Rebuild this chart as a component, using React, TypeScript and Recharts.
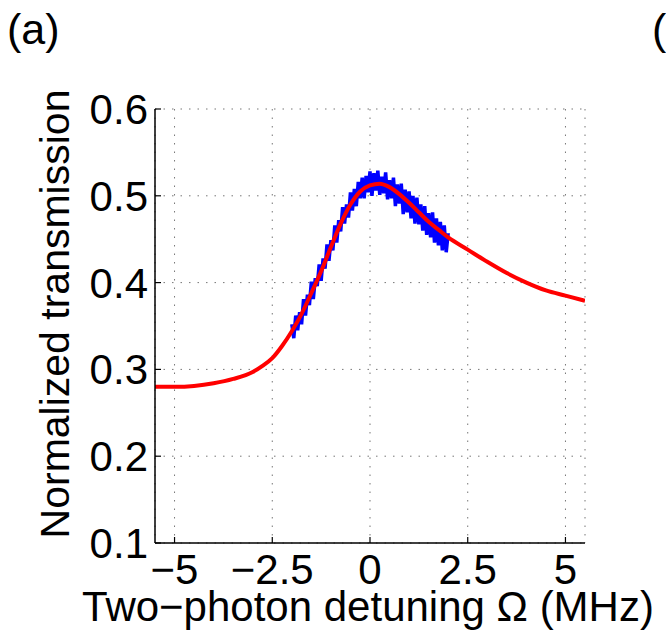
import { ComposedChart, Line, XAxis, YAxis, CartesianGrid } from 'recharts';

const xTicks = [-5, -2.5, 0, 2.5, 5];
const yTicks = [0.1, 0.2, 0.3, 0.4, 0.5, 0.6];

// fitted curve (red)
const fitX = [-5.5, -5, -4.5, -4, -3.5, -3, -2.75, -2.5, -2.25, -2, -1.75, -1.5, -1.25, -1, -0.75, -0.5, -0.25, 0, 0.25, 0.5, 0.75, 1, 1.25, 1.5, 1.75, 2, 2.5, 3, 3.5, 4, 4.5, 5, 5.5];
const fitY = [0.28, 0.28, 0.281, 0.284, 0.289, 0.297, 0.304, 0.313, 0.327, 0.344, 0.364, 0.388, 0.413, 0.441, 0.468, 0.49, 0.505, 0.512, 0.514, 0.51, 0.502, 0.492, 0.481, 0.47, 0.461, 0.452, 0.438, 0.424, 0.411, 0.4, 0.391, 0.385, 0.379];

// measured trace (blue)
const measX = [
  -2.0, -1.95, -1.9, -1.85, -1.8, -1.75, -1.7, -1.65, -1.6, -1.55,
  -1.5, -1.45, -1.4, -1.35, -1.3, -1.25, -1.2, -1.15, -1.1, -1.05,
  -1.0, -0.95, -0.9, -0.85, -0.8, -0.75, -0.7, -0.65, -0.6, -0.55,
  -0.5, -0.45, -0.4, -0.35, -0.3, -0.25, -0.2, -0.15, -0.1, -0.05,
  0.0, 0.05, 0.1, 0.15, 0.2, 0.25, 0.3, 0.35, 0.4, 0.45,
  0.5, 0.55, 0.6, 0.65, 0.7, 0.75, 0.8, 0.85, 0.9, 0.95,
  1.0, 1.05, 1.1, 1.15, 1.2, 1.25, 1.3, 1.35, 1.4, 1.45,
  1.5, 1.55, 1.6, 1.65, 1.7, 1.75, 1.8, 1.85, 1.9, 1.95, 2.0,
];
const measY = [
  0.352, 0.336, 0.362, 0.345, 0.366, 0.352, 0.381, 0.362, 0.386, 0.374,
  0.401, 0.381, 0.405, 0.396, 0.421, 0.402, 0.428, 0.416, 0.444, 0.425,
  0.449, 0.437, 0.466, 0.446, 0.472, 0.459, 0.487, 0.468, 0.49, 0.475,
  0.504, 0.483, 0.508, 0.488, 0.516, 0.497, 0.521, 0.497, 0.523, 0.504,
  0.528, 0.5, 0.526, 0.506, 0.529, 0.501, 0.522, 0.503, 0.527, 0.496,
  0.518, 0.497, 0.521, 0.488, 0.513, 0.491, 0.514, 0.479, 0.507, 0.481,
  0.505, 0.474, 0.5, 0.468, 0.498, 0.467, 0.49, 0.46, 0.488, 0.455,
  0.48, 0.452, 0.481, 0.446, 0.474, 0.443, 0.47, 0.437, 0.466, 0.435, 0.457,
];

const FONT = '"Liberation Sans", Arial, Helvetica, sans-serif';

const fmtX = (v: number) => (v < 0 ? '\u2212' + Math.abs(v) : String(v));
const fmtY = (v: number) => v.toFixed(1);

export default function App() {
  const fitData = fitX.map((x, i) => ({ x, y: fitY[i] }));
  const measData = measX.map((x, i) => ({ x, y: measY[i] }));
  const tickStyle = { fill: '#000', fontSize: 42, fontFamily: FONT };
  const axisLine = { stroke: '#000', strokeWidth: 1.5 };
  const tickLine = { stroke: '#000', strokeWidth: 1.2 };

  return (
    <div style={{ position: 'absolute', left: 0, top: 0, width: 666, height: 637, background: '#fff' }}>
      <ComposedChart width={666} height={637} margin={{ top: 109, right: 81, bottom: 0, left: 0 }}>
        <CartesianGrid stroke="#777" strokeDasharray="1.5 7" />
        <XAxis
          type="number"
          dataKey="x"
          domain={[-5.5, 5.5]}
          ticks={xTicks}
          tickFormatter={fmtX}
          height={94}
          tick={tickStyle}
          tickLine={tickLine}
          tickSize={-6}
          tickMargin={17}
          axisLine={axisLine}
          allowDataOverflow
        />
        <XAxis
          xAxisId="top"
          orientation="top"
          type="number"
          domain={[-5.5, 5.5]}
          ticks={xTicks}
          height={0}
          tick={false}
          tickLine={tickLine}
          mirror
          axisLine={axisLine}
        />
        <YAxis
          type="number"
          domain={[0.1, 0.6]}
          ticks={yTicks}
          tickFormatter={fmtY}
          width={155}
          tick={tickStyle}
          tickLine={tickLine}
          tickSize={-6}
          tickMargin={13}
          axisLine={axisLine}
          allowDataOverflow
        />
        <YAxis
          yAxisId="right"
          orientation="right"
          type="number"
          domain={[0.1, 0.6]}
          ticks={yTicks}
          width={0}
          tick={false}
          tickLine={tickLine}
          mirror
          axisLine={axisLine}
        />
        <Line data={measData} dataKey="y" type="linear" stroke="#0000ff" strokeWidth={3.5} dot={false} isAnimationActive={false} />
        <Line data={fitData} dataKey="y" type="monotone" stroke="#ff0000" strokeWidth={4} dot={false} isAnimationActive={false} />
      </ComposedChart>
      <svg width={666} height={637} style={{ position: 'absolute', left: 0, top: 0, pointerEvents: 'none' }}>
        <g fontFamily={FONT} fill="#000">
          <text x={7} y={44} fontSize={43}>(a)</text>
          <text x={652} y={44} fontSize={43}>(</text>
          <text x={69} y={314} fontSize={41} textAnchor="middle" transform="rotate(-90, 69, 314)">Normalized transmission</text>
          <text x={368} y={621} fontSize={42} textAnchor="middle">Two{'\u2212'}photon detuning {'\u03A9'} (MHz)</text>
        </g>
      </svg>
    </div>
  );
}
